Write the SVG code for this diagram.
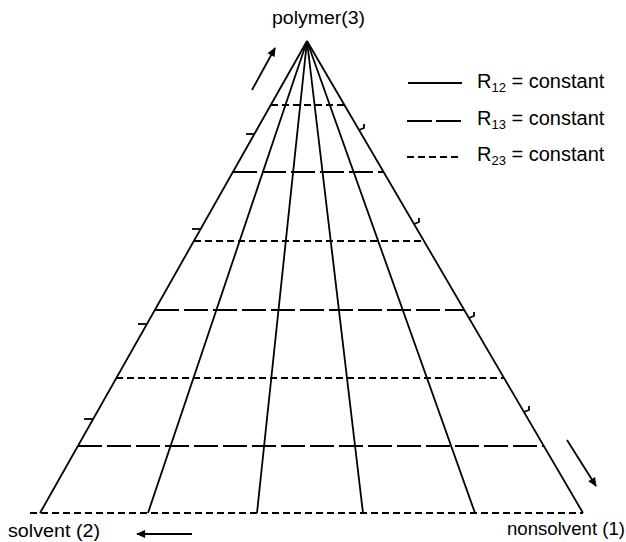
<svg xmlns="http://www.w3.org/2000/svg" width="626" height="542" viewBox="0 0 626 542">
<style>
line,path,polyline{fill:none;stroke:#000;stroke-width:1.8;stroke-linecap:butt}
.r13{stroke-dasharray:24 5}
.r23{stroke-dasharray:7 4}
text{font-family:"Liberation Sans",Arial,sans-serif;fill:#000}
.lbl{font-size:18px}
.leg{font-size:20px}
.sub{font-size:13px}
</style>
<defs>
<marker id="ah" viewBox="0 0 10 10" refX="9" refY="5" markerWidth="11" markerHeight="9" markerUnits="userSpaceOnUse" orient="auto">
<path d="M0,0.5 L10,5 L0,9.5 Z" style="fill:#000;stroke:none"/>
</marker>
</defs>
<rect width="626" height="542" fill="#fff"/>
<g id="connectors">
<line x1="307" y1="41" x2="40" y2="513"/>
<line x1="307" y1="41" x2="583" y2="513"/>
<line x1="307" y1="41" x2="148" y2="513"/>
<line x1="307" y1="41" x2="257" y2="513"/>
<line x1="307" y1="41" x2="363" y2="513"/>
<line x1="307" y1="41" x2="475" y2="513"/>
<line class="r23" x1="271" y1="105" x2="344" y2="105"/>
<line class="r13" x1="233" y1="172" x2="384" y2="172"/>
<line class="r23" x1="194" y1="241" x2="424" y2="241"/>
<line class="r13" x1="155" y1="310" x2="464" y2="310"/>
<line class="r23" x1="116" y1="378" x2="504" y2="378"/>
<line class="r13" x1="78" y1="446" x2="544" y2="446"/>
<line class="r23" x1="30" y1="513" x2="583" y2="513"/>
<line x1="246" y1="134" x2="254" y2="134"/>
<line x1="192" y1="229" x2="200" y2="229"/>
<line x1="138" y1="324" x2="147" y2="324"/>
<line x1="84" y1="419" x2="93" y2="419"/>
<path d="M359,130 L364,128 L364,124"/>
<path d="M414,224 L419,222 L419,218"/>
<path d="M469,318 L474,316 L474,312"/>
<path d="M524,412 L529,410 L529,406"/>
<line x1="252" y1="90" x2="275" y2="48" marker-end="url(#ah)"/>
<line x1="567" y1="440" x2="596" y2="486" marker-end="url(#ah)"/>
<line x1="192" y1="534" x2="137" y2="534" marker-end="url(#ah)"/>
</g>
<g id="node-polymer"><text class="lbl" x="272" y="24" textLength="93" lengthAdjust="spacingAndGlyphs">polymer(3)</text></g>
<g id="node-solvent"><text class="lbl" x="8" y="537" textLength="92" lengthAdjust="spacingAndGlyphs">solvent (2)</text></g>
<g id="node-nonsolvent"><text class="lbl" x="507" y="535" textLength="118" lengthAdjust="spacingAndGlyphs">nonsolvent (1)</text></g>
<g id="legend">
<line x1="408" y1="83" x2="462" y2="83"/>
<text class="leg" x="477" y="88">R<tspan class="sub" dy="4">12</tspan><tspan dy="-4"> = constant</tspan></text>
<line class="r13" x1="407" y1="121" x2="462" y2="121" style="stroke-dasharray:25 4"/>
<text class="leg" x="477" y="125">R<tspan class="sub" dy="4">13</tspan><tspan dy="-4"> = constant</tspan></text>
<line class="r23" x1="407" y1="157" x2="462" y2="157"/>
<text class="leg" x="477" y="161">R<tspan class="sub" dy="4">23</tspan><tspan dy="-4"> = constant</tspan></text>
</g>
</svg>
